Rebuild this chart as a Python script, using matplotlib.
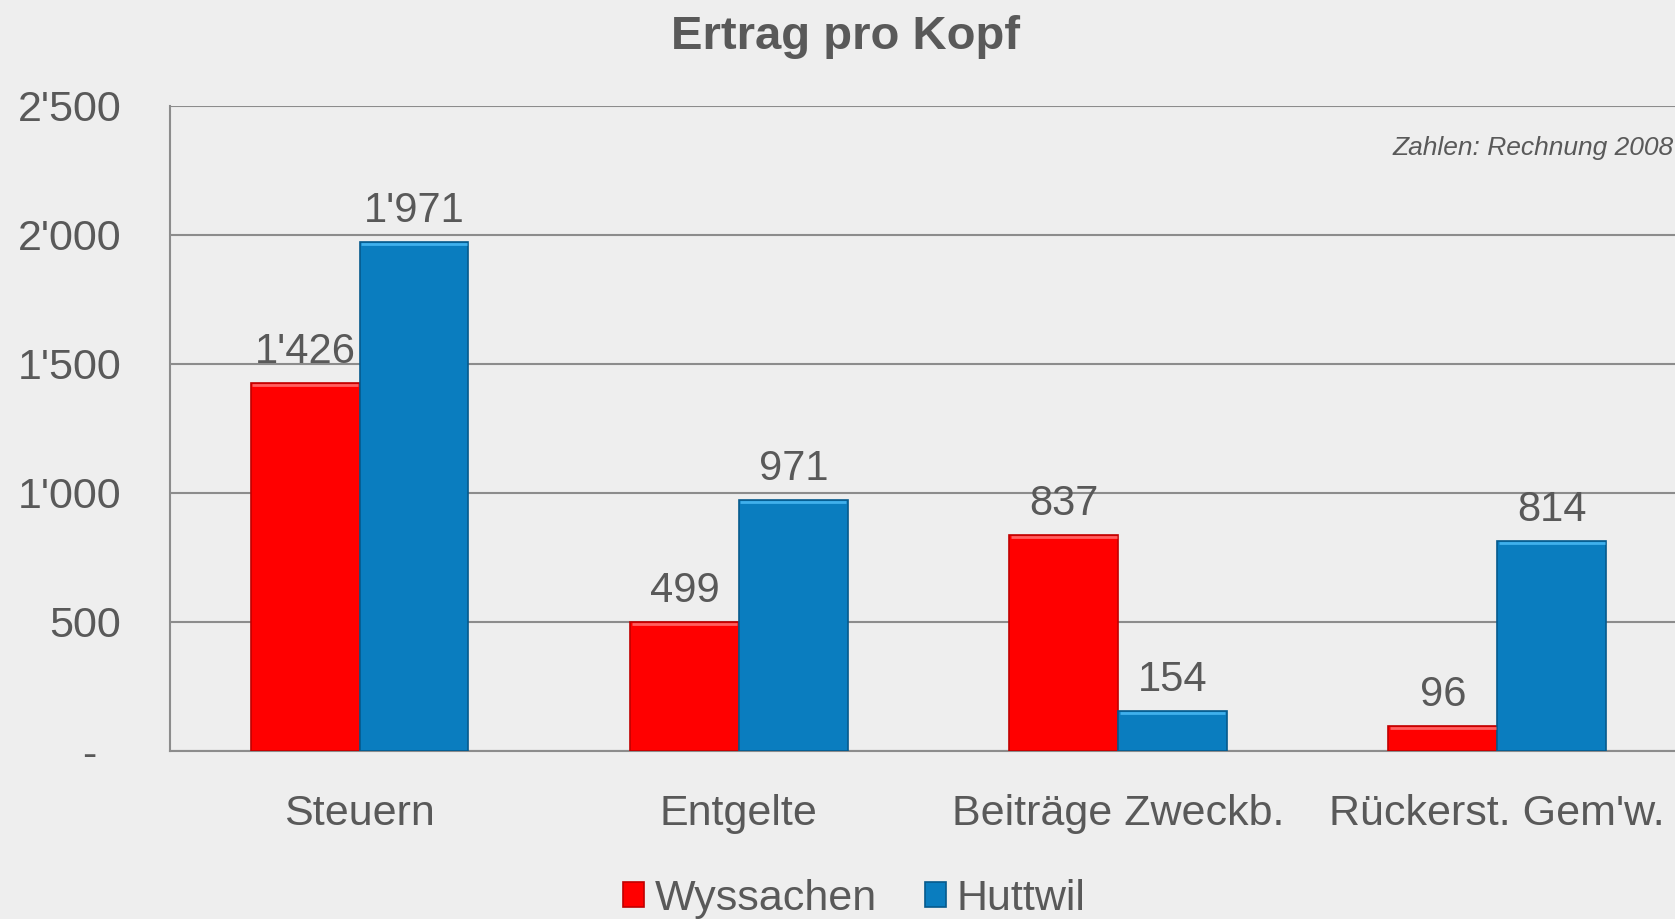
import numpy as np
import matplotlib
matplotlib.use("Agg")
import matplotlib.pyplot as plt

categories = ["Steuern", "Entgelte", "Beiträge Zweckb.", "Rückerst. Gem'w."]
wyssachen = [1426, 499, 837, 96]
huttwil = [1971, 971, 154, 814]
yticks = [0, 500, 1000, 1500, 2000, 2500]
ytick_labels = ["-  ", "500", "1'000", "1'500", "2'000", "2'500"]


def fmt(v):
    return f"{v:,}".replace(",", "'")


plt.rcParams["font.family"] = ["Liberation Sans", "DejaVu Sans"]
text_col = "#595959"
bg = "#eeeeee"
red = "#ff0000"
blue = "#0a7dbf"

fig = plt.figure(figsize=(16.75, 9.19), dpi=100, facecolor=bg)
ax = fig.add_axes([0.1015, 0.1828, 0.9056, 0.7019], facecolor=bg)

x = np.arange(len(categories))
w = 0.287
b1 = ax.bar(x - w / 2, wyssachen, w, color=red, edgecolor="#c00000", linewidth=1.2, zorder=3)
b2 = ax.bar(x + w / 2, huttwil, w, color=blue, edgecolor="#065a8c", linewidth=1.2, zorder=3)

# lighter top edge, like the bevel in the original
for bars, c in [(b1, "#ff6060"), (b2, "#40b0ec")]:
    for r in bars:
        ax.plot([r.get_x() + 0.004, r.get_x() + r.get_width() - 0.004],
                [r.get_height() - 6, r.get_height() - 6], color=c, lw=2, zorder=4,
                solid_capstyle="butt")

for bars, vals in [(b1, wyssachen), (b2, huttwil)]:
    for r, v in zip(bars, vals):
        ax.annotate(fmt(v), (r.get_x() + r.get_width() / 2, v), xytext=(0, 8),
                    textcoords="offset points", ha="center", va="bottom",
                    fontsize=30, color=text_col)

ax.set_xlim(-0.5, 3.5)
ax.set_ylim(0, 2500)
ax.set_yticks(yticks)
ax.set_yticklabels(ytick_labels)
ax.set_xticks(x)
ax.set_xticklabels(categories)
ax.tick_params(axis="y", length=0, pad=35, labelsize=31, labelcolor=text_col)
ax.tick_params(axis="x", length=0, pad=31, labelsize=31, labelcolor=text_col)
ax.yaxis.grid(True, color="#8c8c8c", linewidth=1.5, zorder=0)
ax.set_axisbelow(True)
for s in ["top", "right"]:
    ax.spines[s].set_visible(False)
for s in ["left", "bottom"]:
    ax.spines[s].set_color("#8c8c8c")
    ax.spines[s].set_linewidth(1.5)

fig.text(0.505, 0.96, "Ertrag pro Kopf", ha="center", va="center",
         fontsize=34, fontweight="bold", color=text_col)
fig.text(0.999, 0.839, "Zahlen: Rechnung 2008", ha="right", va="center",
         fontsize=19, style="italic", color=text_col)

leg = fig.legend([b1, b2], ["Wyssachen", "Huttwil"], loc="center",
                 bbox_to_anchor=(0.51, 0.022), ncol=2, frameon=False,
                 fontsize=31, handlelength=0.5, handleheight=0.5,
                 handletextpad=0.25, columnspacing=1.1)
for t in leg.get_texts():
    t.set_color(text_col)

fig.savefig("out.png", dpi=100, facecolor=bg)
